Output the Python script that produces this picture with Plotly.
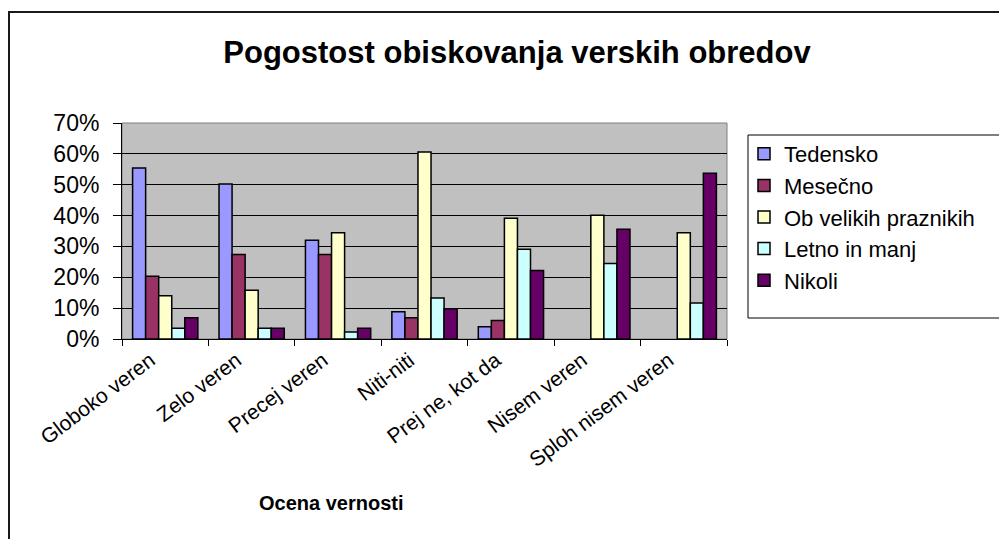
import plotly.graph_objects as go

# Kategorije (ocena vernosti)
categories = ["Globoko veren", "Zelo veren", "Precej veren", "Niti-niti",
              "Prej ne, kot da", "Nisem veren", "Sploh nisem veren"]

# Deleži po pogostosti obiskovanja obredov
tedensko = [0.554, 0.502, 0.320, 0.088, 0.040, None, None]
mesecno = [0.203, 0.274, 0.274, 0.069, 0.060, None, None]
ob_praznikih = [0.140, 0.158, 0.344, 0.606, 0.391, 0.401, 0.344]
letno_manj = [0.035, 0.035, 0.023, 0.133, 0.291, 0.245, 0.117]
nikoli = [0.069, 0.035, 0.035, 0.098, 0.222, 0.356, 0.537]

series_names = ["Tedensko", "Mesečno", "Ob velikih praznikih", "Letno in manj", "Nikoli"]
series_values = [tedensko, mesecno, ob_praznikih, letno_manj, nikoli]
series_colors = ["#9999FF", "#993366", "#FFFFCC", "#CCFFFF", "#660066"]

y_ticks = [0, 0.1, 0.2, 0.3, 0.4, 0.5, 0.6, 0.7]

font_family = "Liberation Sans, Arial, sans-serif"

fig = go.Figure()
for name, vals, col in zip(series_names, series_values, series_colors):
    fig.add_trace(go.Bar(
        x=categories, y=vals, name=name,
        marker=dict(color=col, line=dict(color="#000000", width=1.5)),
    ))

# stran ima 8px roba (body margin), zato je vse zamaknjeno
OFF = 8
W, H = 1007 - OFF, 539 - OFF
# risalna površina v oknu: x 122..727, y 123..339 px
L, T = 122 - OFF, 123 - OFF
R, B = W - (727 - OFF), H - (339 - OFF)
pw, ph = W - L - R, H - T - B


def px_x(px):
    return (px - OFF - L) / pw


def px_y(py):
    return (H - B - (py - OFF)) / ph


fig.update_layout(
    width=W, height=H,
    margin=dict(l=L, r=R, t=T, b=B),
    paper_bgcolor="white",
    plot_bgcolor="#C0C0C0",
    font=dict(family=font_family, color="#000000", size=20),
    barmode="group",
    bargap=0.245,
    bargroupgap=0,
    title=dict(
        text="<b>Pogostost obiskovanja verskih obredov</b>",
        x=(517 - OFF) / W, xanchor="center", xref="container",
        y=1 - (52 - OFF) / H, yanchor="middle", yref="container",
        font=dict(size=31, family=font_family, color="#000000"),
    ),
    legend=dict(
        x=px_x(744), y=px_y(133), xanchor="left", yanchor="top",
        bgcolor="rgba(0,0,0,0)", borderwidth=0,
        font=dict(size=22, family=font_family),
        traceorder="normal",
    ),
    showlegend=True,
)

fig.update_xaxes(
    type="category",
    tickangle=-37,
    tickfont=dict(size=21),
    ticklabelshift=-15,
    showline=True, linecolor="#000000", linewidth=1,
    ticks="outside", tickson="boundaries", ticklen=6, tickcolor="#000000",
    showgrid=False,
)
fig.update_yaxes(
    range=[0, 0.7],
    tickvals=y_ticks,
    tickformat=".0%",
    tickfont=dict(size=23),
    showline=True, linecolor="#000000", linewidth=1,
    ticks="outside", ticklen=8, tickcolor="#000000",
    ticklabelstandoff=9,
    showgrid=True, gridcolor="#000000", gridwidth=1,
    zeroline=False,
)

# obroba risalne površine
fig.add_shape(type="rect", xref="paper", yref="paper", x0=0, x1=1, y0=0, y1=1,
              line=dict(color="#808080", width=1), layer="below")

# okvir legende
fig.add_shape(type="rect", xref="paper", yref="paper",
              x0=px_x(748), x1=px_x(1020), y0=px_y(318), y1=px_y(135),
              line=dict(color="#000000", width=1), fillcolor="white")

# obroba celotnega grafikona
fig.add_shape(type="rect", xref="paper", yref="paper",
              x0=px_x(9), x1=px_x(1015), y0=px_y(548), y1=px_y(12),
              line=dict(color="#1a1a1a", width=2))

# naslov osi x
fig.add_annotation(
    text="<b>Ocena vernosti</b>", xref="paper", yref="paper",
    x=px_x(331), y=px_y(503), xanchor="center", yanchor="middle",
    showarrow=False, font=dict(size=20, family=font_family),
)

fig.write_html("out.html")
